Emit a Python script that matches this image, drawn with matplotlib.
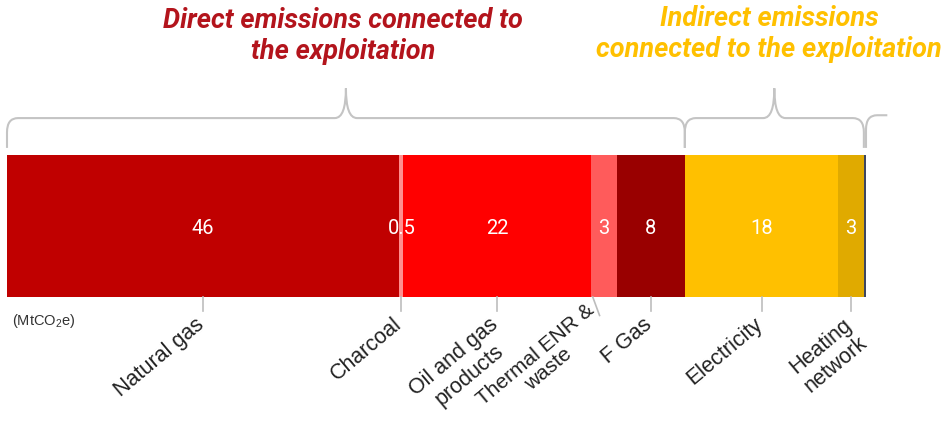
import numpy as np
import matplotlib.pyplot as plt
from matplotlib.path import Path
from matplotlib.patches import PathPatch
import matplotlib.transforms as mtransforms

# emissions by source (MtCO2e)
sources = ["Natural gas", "Charcoal", "Oil and gas\nproducts", "Thermal ENR &\nwaste",
           "F Gas", "Electricity", "Heating\nnetwork", ""]
values = [46, 0.5, 22, 3, 8, 18, 3, 0.25]
value_labels = ["46", "0.5", "22", "3", "8", "18", "3", ""]
colors = ["#c00000", "#ff8f8f", "#ff0000", "#ff5b5b", "#990000", "#ffc000", "#e0aa00", "#3d4660"]

# groups shown with braces above the bar (index ranges into values)
groups = [(0, 5), (5, 7)]

fig = plt.figure(figsize=(9.41, 4.24), dpi=100)
ax = fig.add_axes([7 / 941, 127 / 424, 859 / 941, 142 / 424])

lefts = np.concatenate([[0], np.cumsum(values)[:-1]])
total = sum(values)
ax.barh(0, values, left=lefts, height=1.0, color=colors, linewidth=0)
ax.set_xlim(0, total)
ax.set_ylim(-0.5, 0.5)
ax.axis("off")

# value labels inside the bar
for l, v, t in zip(lefts, values, value_labels):
    if t:
        ax.text(l + v / 2, -0.015, t, ha="center", va="center", color="white",
                fontsize=14.5, family="Roboto")

# category ticks and rotated labels under the bar
trans = mtransforms.blended_transform_factory(ax.transData, ax.transAxes)
for l, v, name in zip(lefts, values, sources):
    if not name:
        continue
    c = l + v / 2
    fs, ls = 15.5, 1.2
    if name.startswith("Thermal"):
        # narrow slice: slanted leader, label pulled up
        ax.plot([c - 1.3, c - 0.5], [0, -0.13], color="#bdbdbd", lw=1.2, transform=trans,
                clip_on=False)
        lx, ly = c - 2.1, -0.02
        fs, ls = 15, 1.05
    else:
        ax.plot([c, c], [0, -0.10], color="#bdbdbd", lw=1.2, transform=trans, clip_on=False)
        lx, ly = c - 1.0, -0.12
    ax.text(lx, ly, name, rotation=40, rotation_mode="anchor", ha="right", va="top",
            multialignment="center", fontsize=fs, color="#222222", family="Liberation Sans",
            transform=trans, linespacing=ls)

ax.text(0.006, -0.105, r"(MtCO$_{\mathregular{2}}$e)", transform=ax.transAxes, ha="left",
        va="top", fontsize=10.5, color="#333333", family="Liberation Sans")


def brace(x0, x1, y0=1.05, yh=1.26, ypk=1.47, d=1.3):
    xm = (x0 + x1) / 2
    verts = [(x0, y0), (x0, yh - 0.1), (x0, yh), (x0 + d, yh),
             (xm - d, yh), (xm, yh), (xm, ypk), (xm, yh), (xm + d, yh),
             (x1 - d, yh), (x1, yh), (x1, yh - 0.1), (x1, y0)]
    codes = [Path.MOVETO, Path.LINETO, Path.CURVE3, Path.CURVE3,
             Path.LINETO, Path.CURVE3, Path.CURVE3, Path.CURVE3, Path.CURVE3,
             Path.LINETO, Path.CURVE3, Path.CURVE3, Path.LINETO]
    ax.add_patch(PathPatch(Path(verts, codes), fill=False, edgecolor="#c4c4c4", lw=1.5,
                           transform=trans, clip_on=False))


for a, b in groups:
    brace(lefts[a], lefts[b - 1] + values[b - 1])

# start of the next brace, cut off at the figure edge
xs = total
tail = Path([(xs, 1.05), (xs, 1.18), (xs, 1.28), (xs + 1.3, 1.28), (xs + 2.5, 1.28)],
            [Path.MOVETO, Path.LINETO, Path.CURVE3, Path.CURVE3, Path.LINETO])
ax.add_patch(PathPatch(tail, fill=False, edgecolor="#c4c4c4", lw=1.5, transform=trans,
                       clip_on=False))

fig.text(343 / 941, 1 - 36 / 424, "Direct emissions connected to\nthe exploitation",
         ha="center", va="center", color="#b3141c", fontsize=19.5, fontweight="bold",
         fontstyle="italic", family="Roboto", linespacing=1.2)
fig.text(769 / 941, 1 - 34 / 424, "Indirect emissions\nconnected to the exploitation",
         ha="center", va="center", color="#ffc000", fontsize=19.5, fontweight="bold",
         fontstyle="italic", family="Roboto", linespacing=1.2)

fig.savefig("out.png", dpi=100)
